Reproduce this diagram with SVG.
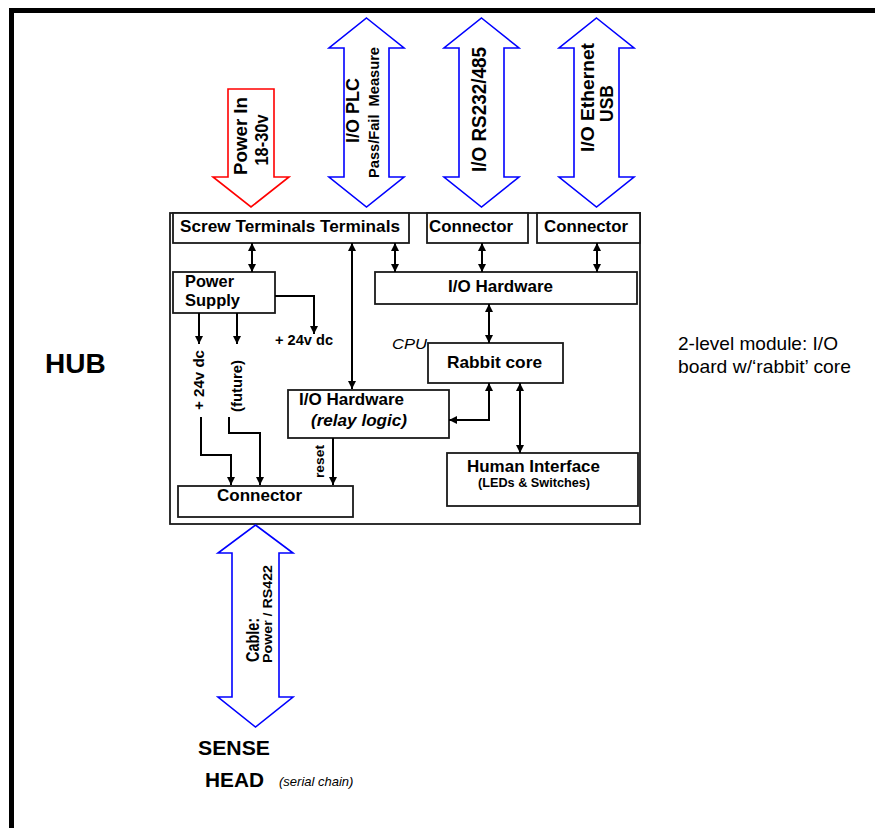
<svg xmlns="http://www.w3.org/2000/svg" width="875" height="828" viewBox="0 0 875 828">
<style>
text{font-family:"Liberation Sans",Arial,sans-serif;fill:#000}
.b{font-weight:bold}
.i{font-style:italic}
.box{fill:#fff;stroke:#1a1a1a;stroke-width:1.8}
.ln{fill:none;stroke:#000;stroke-width:2}
.blue{fill:#fff;stroke:#0000ff;stroke-width:1.6}
.red{fill:#fff;stroke:#ff0000;stroke-width:1.6}
</style>
<defs>
<marker id="ah" viewBox="0 0 10 10" refX="10" refY="5" markerWidth="9" markerHeight="8" markerUnits="userSpaceOnUse" orient="auto-start-reverse">
<path d="M0,0 L10,5 L0,10 Z" fill="#000"/>
</marker>
</defs>
<rect x="11.5" y="10.5" width="900" height="900" fill="#fff" stroke="#000" stroke-width="5"/>

<g id="hub-label"><text class="b" x="45" y="373" font-size="28">HUB</text></g>
<g id="note"><text x="678" y="350" font-size="19" textLength="160" lengthAdjust="spacingAndGlyphs">2-level module: I/O</text><text x="678" y="373" font-size="19" textLength="173" lengthAdjust="spacingAndGlyphs">board w/‘rabbit’ core</text></g>

<g id="power-in"><polygon class="red" points="228,89 274,89 274,177 289,177 251,207 213,177 228,177"/>
<text class="b" font-size="18.5" text-anchor="middle" transform="translate(247,136) rotate(-90)" textLength="78" lengthAdjust="spacingAndGlyphs">Power In</text>
<text class="b" font-size="18.5" text-anchor="middle" transform="translate(268,140) rotate(-90)" textLength="51" lengthAdjust="spacingAndGlyphs">18-30v</text></g>

<g id="io-plc"><polygon class="blue" points="366.5,18 404,48 389,48 389,177 404,177 366.5,207 329,177 344,177 344,48 329,48"/>
<text class="b" font-size="18" text-anchor="middle" transform="translate(359,110.5) rotate(-90)" textLength="65" lengthAdjust="spacingAndGlyphs">I/O PLC</text>
<text class="b" font-size="14" text-anchor="middle" transform="translate(379,112.5) rotate(-90)" textLength="131" lengthAdjust="spacingAndGlyphs" xml:space="preserve">Pass/Fail  Measure</text></g>

<g id="io-rs232"><polygon class="blue" points="481.5,18 519,48 504,48 504,177 519,177 481.5,207 444,177 459,177 459,48 444,48"/>
<text class="b" font-size="19.5" text-anchor="middle" transform="translate(486,109.5) rotate(-90)" textLength="125" lengthAdjust="spacingAndGlyphs">I/O RS232/485</text></g>

<g id="io-ethernet"><polygon class="blue" points="596.5,18 634,48 619,48 619,177 634,177 596.5,207 559,177 574,177 574,48 559,48"/>
<text class="b" font-size="19" text-anchor="middle" transform="translate(594,97.5) rotate(-90)" textLength="109" lengthAdjust="spacingAndGlyphs">I/O Ethernet</text>
<text class="b" font-size="19" text-anchor="middle" transform="translate(613,103.5) rotate(-90)" textLength="37" lengthAdjust="spacingAndGlyphs">USB</text></g>

<g id="module"><rect class="box" x="170" y="213" width="470" height="311"/></g>

<g id="screw-terminals"><rect class="box" x="173" y="213" width="236" height="30"/><text class="b" x="180" y="232" font-size="16.5" textLength="220" lengthAdjust="spacingAndGlyphs">Screw Terminals Terminals</text></g>
<g id="connector-1"><rect class="box" x="427" y="213" width="101" height="30"/><text class="b" x="429" y="232" font-size="16.5" textLength="84" lengthAdjust="spacingAndGlyphs">Connector</text></g>
<g id="connector-2"><rect class="box" x="537" y="213" width="103" height="30"/><text class="b" x="544" y="232" font-size="16.5" textLength="84" lengthAdjust="spacingAndGlyphs">Connector</text></g>
<g id="power-supply"><rect class="box" x="173" y="272" width="102" height="41"/><text class="b" x="185" y="287" font-size="16.5" textLength="49" lengthAdjust="spacingAndGlyphs">Power</text><text class="b" x="185" y="306" font-size="16.5" textLength="55" lengthAdjust="spacingAndGlyphs">Supply</text></g>
<g id="io-hardware"><rect class="box" x="375" y="272" width="262" height="32"/><text class="b" x="448" y="292" font-size="16.5" textLength="105" lengthAdjust="spacingAndGlyphs">I/O Hardware</text></g>
<g id="rabbit-core"><rect class="box" x="428" y="343" width="135" height="40"/><text class="b" x="447" y="368" font-size="16.5" textLength="95" lengthAdjust="spacingAndGlyphs">Rabbit core</text></g>
<g id="cpu-label"><text class="i" x="392" y="349" font-size="15.5" textLength="35" lengthAdjust="spacingAndGlyphs">CPU</text></g>
<g id="relay-logic"><rect class="box" x="288" y="390" width="161" height="48"/><text class="b" x="299" y="405" font-size="16.5" textLength="105" lengthAdjust="spacingAndGlyphs">I/O Hardware</text><text class="b i" x="311" y="426" font-size="16.5" textLength="96" lengthAdjust="spacingAndGlyphs">(relay logic)</text></g>
<g id="human-interface"><rect class="box" x="447" y="453" width="191" height="53"/><text class="b" x="467" y="472" font-size="16.5" textLength="133" lengthAdjust="spacingAndGlyphs">Human Interface</text><text class="b" x="478" y="487" font-size="12" textLength="112" lengthAdjust="spacingAndGlyphs">(LEDs &amp; Switches)</text></g>
<g id="connector-bottom"><rect class="box" x="178" y="486" width="175" height="31"/><text class="b" x="217" y="501" font-size="16.5" textLength="85" lengthAdjust="spacingAndGlyphs">Connector</text></g>

<g id="labels">
<text class="b" x="275" y="345" font-size="14.5" textLength="58" lengthAdjust="spacingAndGlyphs">+ 24v dc</text>
<text class="b" font-size="14.5" text-anchor="middle" transform="translate(204,380) rotate(-90)" textLength="60" lengthAdjust="spacingAndGlyphs">+ 24v dc</text>
<text class="b" font-size="14.5" text-anchor="middle" transform="translate(242,386) rotate(-90)" textLength="52" lengthAdjust="spacingAndGlyphs">(future)</text>
<text class="b" font-size="13.5" text-anchor="middle" transform="translate(324,461.5) rotate(-90)" textLength="33" lengthAdjust="spacingAndGlyphs">reset</text>
</g>

<g id="connectors">
<path class="ln" d="M252,243 V272" marker-start="url(#ah)" marker-end="url(#ah)"/>
<path class="ln" d="M395,243 V272" marker-start="url(#ah)" marker-end="url(#ah)"/>
<path class="ln" d="M482,243 V272" marker-start="url(#ah)" marker-end="url(#ah)"/>
<path class="ln" d="M597,243 V272" marker-start="url(#ah)" marker-end="url(#ah)"/>
<path class="ln" d="M352,243 V389" marker-start="url(#ah)" marker-end="url(#ah)"/>
<path class="ln" d="M275,296 H314 V334" marker-end="url(#ah)"/>
<path class="ln" d="M199,313 V344" marker-end="url(#ah)"/>
<path class="ln" d="M237,313 V344" marker-end="url(#ah)"/>
<path class="ln" d="M201,417 V455 H231 V485" marker-end="url(#ah)"/>
<path class="ln" d="M229,417 V433 H260 V485" marker-end="url(#ah)"/>
<path class="ln" d="M333,438 V485" marker-end="url(#ah)"/>
<path class="ln" d="M489,304 V343" marker-start="url(#ah)" marker-end="url(#ah)"/>
<path class="ln" d="M489,383 V420 H449" marker-start="url(#ah)" marker-end="url(#ah)"/>
<path class="ln" d="M520,383 V453" marker-start="url(#ah)" marker-end="url(#ah)"/>
</g>

<g id="cable"><polygon class="blue" points="255.5,525 293,553 279,553 279,697 293,697 255.5,727 218,697 232,697 232,553 218,553"/>
<text class="b" font-size="19" transform="translate(259,662) rotate(-90)" textLength="44" lengthAdjust="spacingAndGlyphs">Cable:</text>
<text class="b" font-size="13.5" transform="translate(272,663) rotate(-90)" textLength="98" lengthAdjust="spacingAndGlyphs">Power / RS422</text></g>

<g id="sense-head"><text class="b" x="198" y="755" font-size="21" textLength="72" lengthAdjust="spacingAndGlyphs">SENSE</text><text class="b" x="205" y="787" font-size="21" textLength="59" lengthAdjust="spacingAndGlyphs">HEAD</text><text class="i" x="279" y="786" font-size="13">(serial chain)</text></g>
</svg>
